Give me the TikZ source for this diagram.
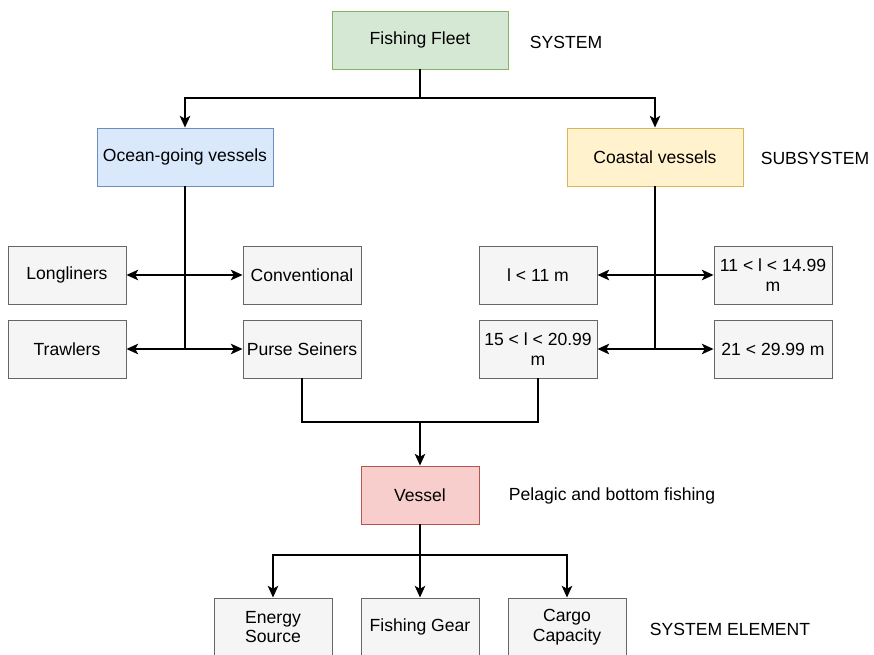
\documentclass[tikz,border=0pt]{standalone}
\usepackage{fontspec}
\setmainfont{Liberation Sans}
\usetikzlibrary{arrows.meta}
\definecolor{greenfill}{HTML}{D5E8D4}
\definecolor{greenline}{HTML}{82B366}
\definecolor{bluefill}{HTML}{DAE8FC}
\definecolor{blueline}{HTML}{6C8EBF}
\definecolor{yellowfill}{HTML}{FFF2CC}
\definecolor{yellowline}{HTML}{D6B656}
\definecolor{redfill}{HTML}{F8CECC}
\definecolor{redline}{HTML}{B85450}
\definecolor{greyfill}{HTML}{F5F5F5}
\definecolor{greyline}{HTML}{666666}

\begin{document}
\begin{tikzpicture}[x=0.03cm, y=-0.03cm,
              every node/.style={font=\fontsize{15}{17}\selectfont},
              box/.style={draw=greyline, fill=greyfill, line width=0.8pt,
                minimum width=3.54cm, minimum height=1.74cm, inner sep=1pt, align=center},
              wide/.style={box, minimum width=5.28cm},
              link/.style={line width=1.2pt},
              arr/.style={link, -{Stealth[length=10pt,width=9pt,inset=2.5pt]}},
              both/.style={link, {Stealth[length=10pt,width=9pt,inset=2.5pt]}-{Stealth[length=10pt,width=9pt,inset=2.5pt]}}]
              \useasboundingbox (0,0) rectangle (874,655);
              % top levels
              \node[wide, draw=greenline, fill=greenfill] (fleet) at (420,40) {Fishing Fleet};
              \node[wide, draw=blueline, fill=bluefill] (ocean) at (185,157) {Ocean-going vessels};
              \node[wide, draw=yellowline, fill=yellowfill] (coast) at (655,157) {Coastal vessels};
              \node (sys) at (566,42) {SYSTEM};
              \node (subsys) at (815,158) {SUBSYSTEM};
              % ocean-going groups
              \node[box] (long) at (67,275) {Longliners};
              \node[box] (conv) at (302,275) {Conventional};
              \node[box] (trawl) at (67,349) {Trawlers};
              \node[box] (purse) at (302,349) {Purse Seiners};
              % coastal groups
              \node[box] (l11) at (538,275) {l < 11 m};
              \node[box] (l14) at (773,275) {11 < l < 14.99\\ m};
              \node[box] (l20) at (538,349) {15 < l < 20.99\\ m};
              \node[box] (l29) at (773,349) {21 < 29.99 m};
              % vessel and elements
              \node[box, draw=redline, fill=redfill] (vessel) at (420,495) {Vessel};
              \node (pelagic) at (612,496) {Pelagic and bottom fishing};
              \node[box] (energy) at (273,627) {Energy\\ Source};
              \node[box] (gear) at (420,627) {Fishing Gear};
              \node[box] (cargo) at (567,627) {Cargo\\ Capacity};
              \node (syselem) at (730,629) {SYSTEM ELEMENT};
              \coordinate (split) at (420,98);
              \coordinate (merge) at (420,422);
              \coordinate (fork) at (420,555);
              % connectors
              \draw[link] (fleet.south) -- (split);
              \draw[arr] (split) -| (ocean.north);
              \draw[arr] (split) -| (coast.north);
              \draw[link] (ocean.south) -- (ocean.south |- trawl.east);
              \draw[link] (coast.south) -- (coast.south |- l29.west);
              \draw[both] (long) -- (conv);
              \draw[both] (trawl) -- (purse);
              \draw[both] (l11) -- (l14);
              \draw[both] (l20) -- (l29);
              \draw[link] (purse.south) |- (merge) -| (l20.south);
              \draw[arr] (merge) -- (vessel.north);
              \draw[link] (vessel.south) -- (fork);
              \draw[arr] (fork) -| (energy.north);
              \draw[arr] (fork) -- (gear.north);
              \draw[arr] (fork) -| (cargo.north);
            \end{tikzpicture}
\end{document}
